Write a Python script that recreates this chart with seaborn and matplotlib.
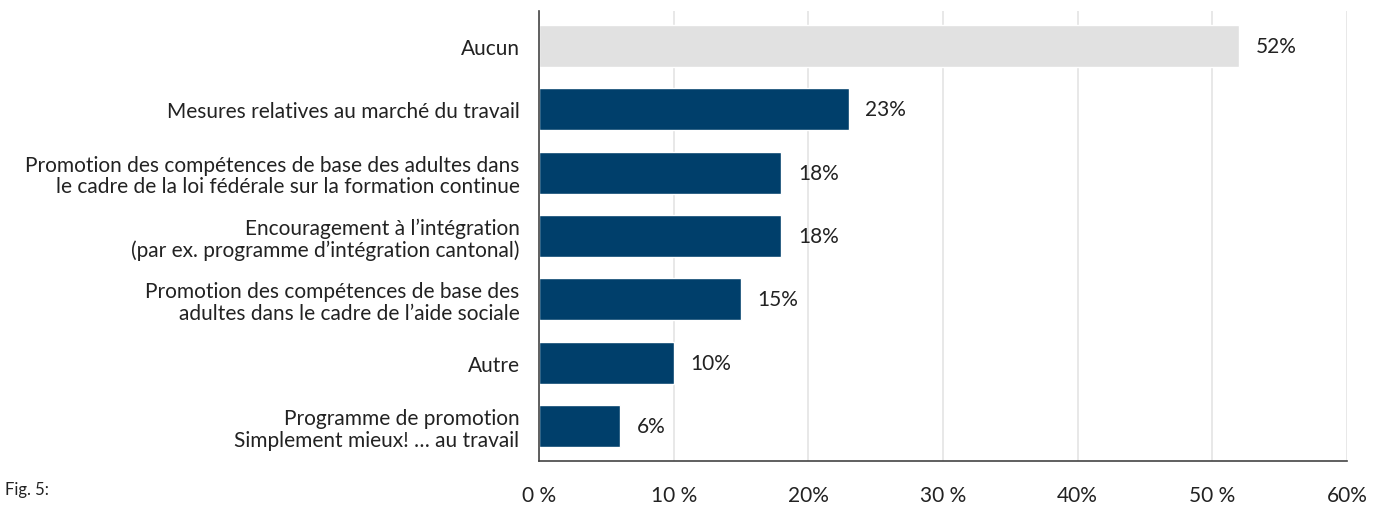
import matplotlib
matplotlib.use("Agg")
import matplotlib.pyplot as plt
import seaborn as sns
import pandas as pd

categories = [
    "Aucun",
    "Mesures relatives au marché du travail",
    "Promotion des compétences de base des adultes dans\nle cadre de la loi fédérale sur la formation continue",
    "Encouragement à l’intégration\n(par ex. programme d’intégration cantonal)",
    "Promotion des compétences de base des\nadultes dans le cadre de l’aide sociale",
    "Autre",
    "Programme de promotion\nSimplement mieux! … au travail",
]
values = [52, 23, 18, 18, 15, 10, 6]
groups = ["none", "measure", "measure", "measure", "measure", "measure", "measure"]
tick_values = [0, 10, 20, 30, 40, 50, 60]
tick_labels = ["0 %", "10 %", "20%", "30 %", "40%", "50 %", "60%"]

palette = {"none": "#e1e1e1", "measure": "#003f6b"}
text_color = "#222222"
fs = 15

sns.set_theme(style="white")
plt.rcParams["font.family"] = ["Lato", "DejaVu Sans"]

df = pd.DataFrame({"cat": categories, "val": values, "grp": groups})

fig = plt.figure(figsize=(13.73, 5.06), dpi=100)
ax = fig.add_axes([539 / 1373, 1 - 462 / 506, (1347 - 539) / 1373, (462 - 12) / 506])

sns.barplot(data=df, x="val", y="cat", hue="grp", palette=palette,
            dodge=False, width=0.66, legend=False, ax=ax, saturation=1)

ax.set_xlim(0, 60)
ax.set_ylim(6.553, -0.553)
ax.set_xticks(tick_values)
ax.set_xticklabels(tick_labels, fontsize=fs, color=text_color)
ax.tick_params(axis="x", direction="out", length=14, width=1.2, color="#444444", pad=3)
ax.tick_params(axis="y", length=0, pad=14)
for lbl in ax.get_yticklabels():
    lbl.set_fontsize(fs)
    lbl.set_color(text_color)
    lbl.set_horizontalalignment("right")
    lbl.set_multialignment("right")
    lbl.set_linespacing(1.1)

ax.set_xlabel("")
ax.set_ylabel("")
ax.xaxis.grid(True, color="#e4e4e4", linewidth=1.2)
ax.set_axisbelow(True)
for side in ["top", "right"]:
    ax.spines[side].set_visible(False)
for side in ["left", "bottom"]:
    ax.spines[side].set_color("#444444")
    ax.spines[side].set_linewidth(1.2)

for i, v in enumerate(values):
    ax.annotate(f"{v}%", xy=(v, i), xytext=(12, 0), textcoords="offset points",
                va="center", ha="left", fontsize=fs, color=text_color)

fig.text(5 / 1373, 1 - 490 / 506, "Fig. 5:", fontsize=12, color=text_color,
         va="center", ha="left")

fig.savefig("out.png", dpi=100)
